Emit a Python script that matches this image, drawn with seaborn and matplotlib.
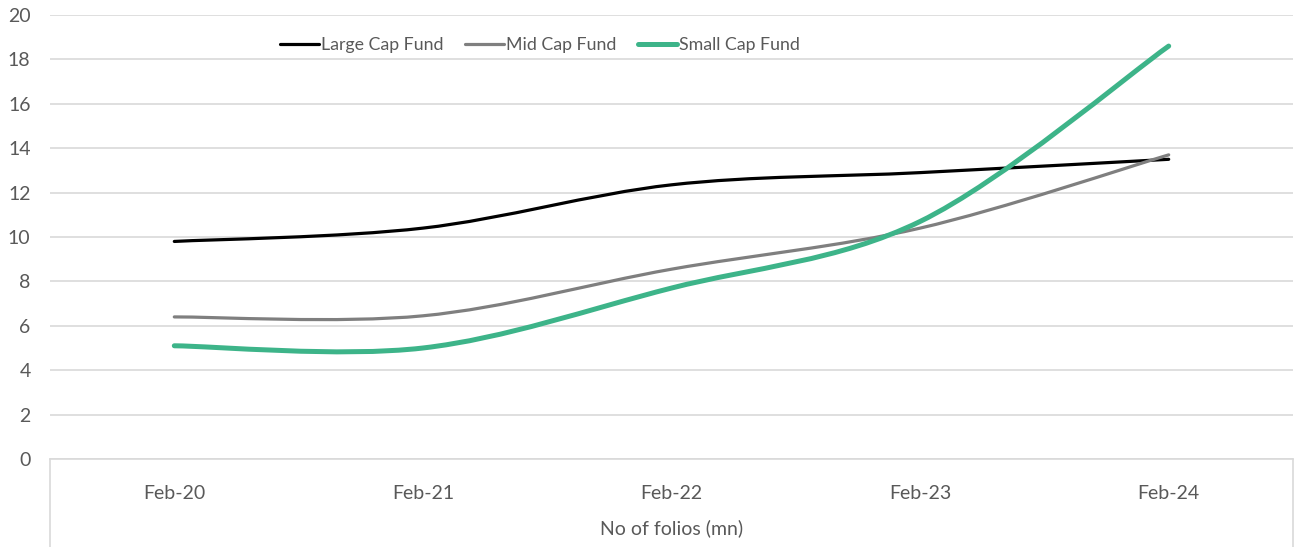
import matplotlib
matplotlib.use("Agg")
import matplotlib.pyplot as plt
import seaborn as sns
from matplotlib.path import Path
from matplotlib.patches import PathPatch
from matplotlib.lines import Line2D

# data (No of folios, mn)
months = ["Feb-20", "Feb-21", "Feb-22", "Feb-23", "Feb-24"]
large_cap = [9.8, 10.4, 12.35, 12.9, 13.5]
mid_cap = [6.4, 6.45, 8.55, 10.4, 13.7]
small_cap = [5.1, 5.0, 7.7, 10.7, 18.6]

series_names = ["Large Cap Fund", "Mid Cap Fund", "Small Cap Fund"]
colors = ["#000000", "#7f7f7f", "#3db489"]
widths = [2.3, 2.3, 3.6]

TEXT = "#595959"
GRID = "#d9d9d9"


def smooth_path(xs, ys):
    # Excel-style smoothed line: cubic bezier through each point
    pts = list(zip(xs, ys))
    n = len(pts)
    verts = [pts[0]]
    codes = [Path.MOVETO]
    for i in range(n - 1):
        p0 = pts[max(i - 1, 0)]
        p1 = pts[i]
        p2 = pts[i + 1]
        p3 = pts[min(i + 2, n - 1)]
        c1 = (p1[0] + (p2[0] - p0[0]) / 6, p1[1] + (p2[1] - p0[1]) / 6)
        c2 = (p2[0] - (p3[0] - p1[0]) / 6, p2[1] - (p3[1] - p1[1]) / 6)
        verts += [c1, c2, p2]
        codes += [Path.CURVE4] * 3
    return Path(verts, codes)


sns.set_style("white")
plt.rcParams["font.family"] = ["Lato", "DejaVu Sans"]

fig = plt.figure(figsize=(12.98, 5.47), dpi=100)
ax = fig.add_axes([50 / 1298, 1 - 459 / 547, 1243 / 1298, 444 / 547])

x = list(range(len(months)))
handles = []
for name, vals, c, lw in zip(series_names, [large_cap, mid_cap, small_cap], colors, widths):
    patch = PathPatch(smooth_path(x, vals), facecolor="none", edgecolor=c,
                      linewidth=lw, capstyle="round", joinstyle="round", zorder=3)
    ax.add_patch(patch)
    handles.append(Line2D([], [], color=c, linewidth=lw, label=name))

ax.set_xlim(-0.5, len(months) - 0.5)
ax.set_ylim(0, 20)
ax.set_yticks(range(0, 21, 2))
ax.set_xticks(x)
ax.set_xticklabels(months)

ax.grid(axis="y", color=GRID, linewidth=1.2)
ax.set_axisbelow(True)
for s in ["top", "right", "left"]:
    ax.spines[s].set_visible(False)
ax.spines["bottom"].set_color(GRID)
ax.spines["bottom"].set_linewidth(1.2)

ax.tick_params(axis="both", length=0, labelsize=14, colors=TEXT)
ax.tick_params(axis="y", pad=14)
ax.tick_params(axis="x", pad=19)

# category box edges below the axis
for xe in [-0.5, len(months) - 0.5]:
    ax.plot([xe, xe], [0, -0.2], transform=ax.get_xaxis_transform(),
            color=GRID, linewidth=1.2, clip_on=False)

ax.set_xlabel("No of folios (mn)", fontsize=14, color=TEXT, labelpad=12)

fig.legend(handles=handles, loc="center", bbox_to_anchor=(540 / 1298, 1 - 45 / 547),
           ncol=3, frameon=False, fontsize=12.8, labelcolor=TEXT,
           handlelength=2.2, handletextpad=0.12, columnspacing=1.2)

fig.savefig("out.png", dpi=100)
